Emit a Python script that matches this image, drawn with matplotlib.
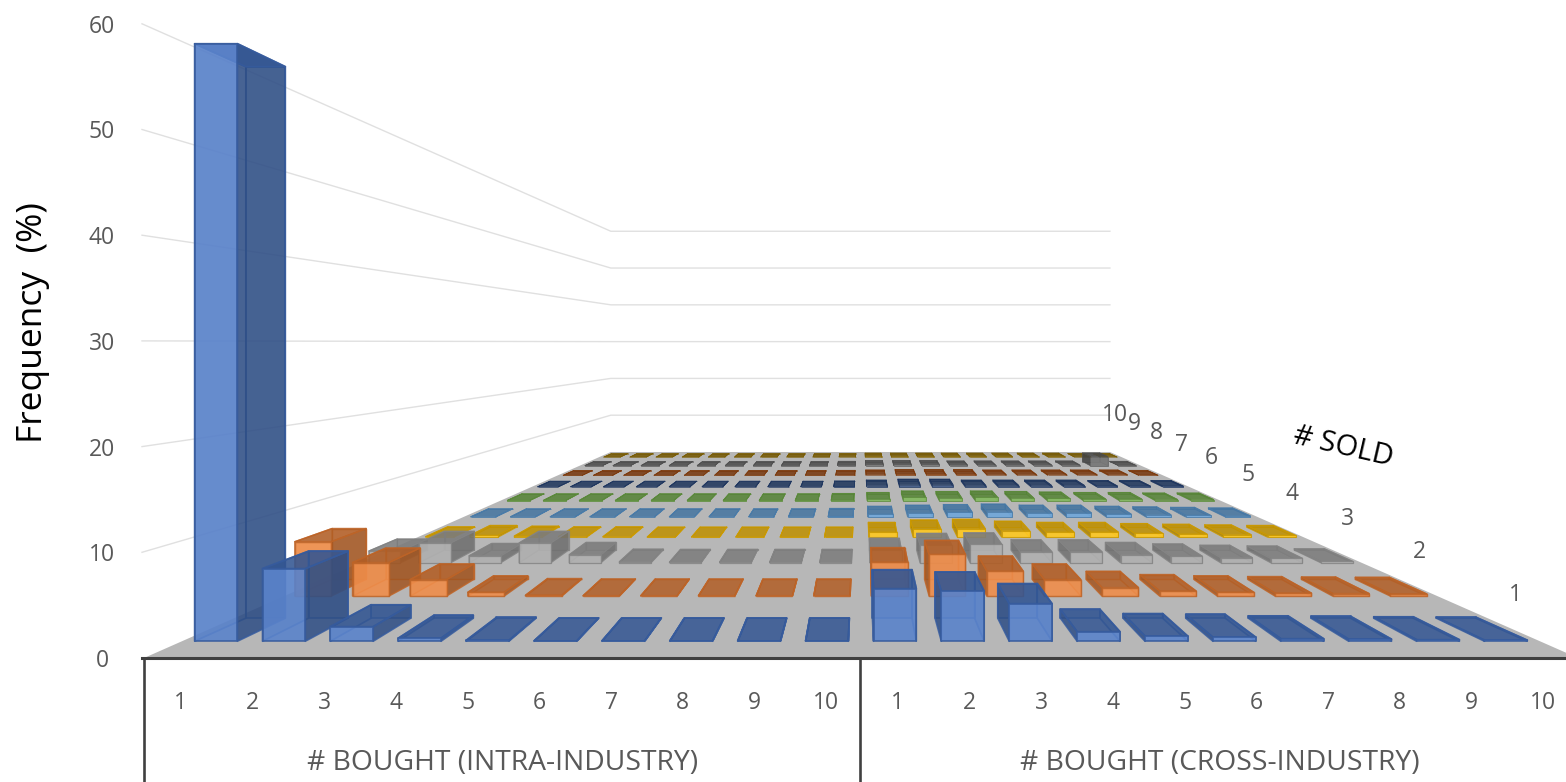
"""Perspective 3D column chart of deal frequency by # bought and # sold."""

import matplotlib
matplotlib.use("Agg")
import matplotlib.pyplot as plt
from matplotlib.colors import to_rgb
from matplotlib.patches import Polygon

plt.rcParams["font.family"] = ["Open Sans", "DejaVu Sans"]

# Frequencies (%): ten intra-industry columns, then ten cross-industry columns
sold_1 = [59.7, 7.25, 1.45, 0.3, 0.08, 0.03, 0.03, 0.03, 0.03, 0.03,
          5.25, 5.0, 3.75, 0.95, 0.5, 0.4, 0.25, 0.2, 0.15, 0.1]
sold_2 = [6.4, 3.95, 1.95, 0.45, 0.1, 0.05, 0.05, 0.05, 0.05, 0.05,
          4.0, 4.9, 2.95, 1.95, 1.0, 0.6, 0.45, 0.35, 0.3, 0.25]
sold_3 = [1.6, 2.7, 0.95, 2.7, 1.1, 0.15, 0.1, 0.1, 0.1, 0.1,
          1.7, 2.4, 2.5, 1.5, 1.5, 1.1, 0.9, 0.7, 0.6, 0.2]
sold_4 = [0.1, 0.3, 0.2, 0.1, 0.1, 0.05, 0.05, 0.05, 0.05, 0.05,
          0.8, 1.2, 1.3, 1.0, 0.8, 0.8, 0.6, 0.5, 0.4, 0.3]
sold_5 = [0.05, 0.05, 0.05, 0.05, 0.05, 0.05, 0.05, 0.05, 0.05, 0.1,
          0.5, 0.7, 0.8, 0.9, 0.7, 0.7, 0.5, 0.4, 0.3, 0.2]
sold_6 = [0.05, 0.05, 0.05, 0.05, 0.05, 0.05, 0.05, 0.05, 0.05, 0.1,
          0.3, 0.6, 0.5, 0.6, 0.5, 0.4, 0.3, 0.3, 0.2, 0.2]
sold_7 = [0.05, 0.05, 0.05, 0.05, 0.05, 0.05, 0.05, 0.05, 0.05, 0.1,
          0.3, 0.5, 0.5, 0.3, 0.3, 0.3, 0.3, 0.2, 0.2, 0.2]
sold_8 = [0.05, 0.05, 0.05, 0.05, 0.05, 0.05, 0.05, 0.05, 0.05, 0.1,
          0.2, 0.3, 0.3, 0.3, 0.2, 0.2, 0.2, 0.2, 0.2, 0.1]
sold_9 = [0.05, 0.05, 0.05, 0.05, 0.05, 0.05, 0.05, 0.05, 0.05, 0.1,
          0.3, 0.3, 0.3, 0.2, 0.2, 0.2, 0.2, 0.2, 2.2, 0.1]
sold_10 = [0.05, 0.05, 0.05, 0.05, 0.05, 0.05, 0.05, 0.05, 0.05, 0.1,
           0.2, 0.2, 0.2, 0.2, 0.2, 0.2, 0.2, 0.2, 0.1, 0.1]
rows = [sold_1, sold_2, sold_3, sold_4, sold_5,
        sold_6, sold_7, sold_8, sold_9, sold_10]

sold_labels = ["1", "2", "3", "4", "5", "6", "7", "8", "9", "10"]
bought_labels = ["1", "2", "3", "4", "5", "6", "7", "8", "9", "10"]
group_labels = ["# BOUGHT (INTRA-INDUSTRY)", "# BOUGHT (CROSS-INDUSTRY)"]
freq_ticks = [0, 10, 20, 30, 40, 50, 60]
row_colors = ["#4472C4", "#ED7D31", "#A5A5A5", "#FFC000", "#5B9BD5",
              "#70AD47", "#264478", "#9E480E", "#636363", "#997300"]

# Projection settings, in canvas pixels
VP_X, VP_Y = 860, 342
FLOOR_LEFT, FLOOR_RIGHT, FLOOR_Y = 144, 1578, 658
PX_PER_UNIT = 10.57
DEPTH_K = 1.873
COL_PITCH = (FLOOR_RIGHT - FLOOR_LEFT) / 20
BAR_FRAC = 0.63
ROW_START, ROW_PITCH, ROW_DEPTH = 0.03, 0.1, 0.047

TICK_GRAY = "#595959"
AXIS_DARK = "#404040"


def scale_at(depth):
    return 1 / (1 + DEPTH_K * depth)


def project(x, depth, value):
    """Map chart coords (canvas x at the front, depth 0-1, frequency) to the canvas."""
    s = scale_at(depth)
    front_y = FLOOR_Y - value * PX_PER_UNIT
    return VP_X + (x - VP_X) * s, VP_Y + (front_y - VP_Y) * s


def shade(color, factor):
    """Darken (factor < 1) or lighten (factor > 1) a colour."""
    r, g, b = to_rgb(color)
    if factor <= 1:
        return (r * factor, g * factor, b * factor)
    t = factor - 1
    return (r + (1 - r) * t, g + (1 - g) * t, b + (1 - b) * t)


def draw_box(ax, x0, x1, d0, d1, value, color):
    """Draw one translucent column, far faces first."""
    corners = {
        "front": [(x0, d0, 0), (x1, d0, 0), (x1, d0, value), (x0, d0, value)],
        "back": [(x0, d1, 0), (x1, d1, 0), (x1, d1, value), (x0, d1, value)],
        "left": [(x0, d0, 0), (x0, d1, 0), (x0, d1, value), (x0, d0, value)],
        "right": [(x1, d0, 0), (x1, d1, 0), (x1, d1, value), (x1, d0, value)],
        "top": [(x0, d0, value), (x1, d0, value), (x1, d1, value), (x0, d1, value)],
    }
    # The column shows whichever side faces the vanishing point
    near_side, far_side = ("right", "left") if (x0 + x1) / 2 < VP_X else ("left", "right")
    faces = [
        ("back", shade(color, 0.7), 0.25),
        (far_side, shade(color, 0.7), 0.2),
        (near_side, shade(color, 0.68), 0.85),
        ("top", shade(color, 0.75), 0.85),
        ("front", shade(color, 1.12), 0.9),
    ]
    edge = shade(color, 0.8)
    lw = max(0.35, 1.5 * scale_at(d0) - 0.15)
    for name, face, alpha in faces:
        pts = [project(*c) for c in corners[name]]
        ax.add_patch(Polygon(pts, closed=True, facecolor=(*face, alpha),
                             edgecolor=(*edge, 0.85), linewidth=lw,
                             joinstyle="round", zorder=3))


fig = plt.figure(figsize=(15.66, 7.82), dpi=100, facecolor="white")
ax = fig.add_axes([0, 0, 1, 1])
ax.set_xlim(0, 1566)
ax.set_ylim(782, 0)
ax.axis("off")

# Wall gridlines: left wall runs to the back wall, which runs across
for tick in freq_ticks:
    ax.text(102, FLOOR_Y - tick * PX_PER_UNIT + 3, str(tick), color=TICK_GRAY,
            fontsize=16.5, ha="center", va="center")
    if tick == 0:
        continue
    xs, ys = zip(project(FLOOR_LEFT - 2, 0, tick), project(FLOOR_LEFT, 1, tick),
                 project(FLOOR_RIGHT, 1, tick))
    ax.plot(xs, ys, color="#E0E0E0", linewidth=1.0, zorder=1)

# Floor
floor = [project(FLOOR_LEFT, 0, 0), project(FLOOR_RIGHT, 0, 0),
         project(FLOOR_RIGHT, 1, 0), project(FLOOR_LEFT, 1, 0)]
ax.add_patch(Polygon(floor, closed=True, facecolor="#B7B7B7", edgecolor="none", zorder=2))

# Columns, back row first and outer columns before inner ones
for row_idx in range(len(rows) - 1, -1, -1):
    d0 = ROW_START + ROW_PITCH * row_idx
    centers = [FLOOR_LEFT + COL_PITCH * (c + 0.5) for c in range(len(rows[row_idx]))]
    order = sorted(range(len(centers)), key=lambda c: -abs(centers[c] - VP_X))
    for c in order:
        half = COL_PITCH * BAR_FRAC / 2
        draw_box(ax, centers[c] - half, centers[c] + half, d0, d0 + ROW_DEPTH,
                 rows[row_idx][c], row_colors[row_idx])

# Category axis frame
ax.plot([FLOOR_LEFT - 2, 1566], [FLOOR_Y, FLOOR_Y], color=AXIS_DARK, linewidth=2.2, zorder=5)
for x in (FLOOR_LEFT, VP_X):
    ax.plot([x, x], [FLOOR_Y, 782], color=AXIS_DARK, linewidth=1.9, zorder=5)

for group in range(2):
    for i, label in enumerate(bought_labels):
        x = FLOOR_LEFT + COL_PITCH * (group * 10 + i + 0.5)
        ax.text(x + 1, 703, label, color=TICK_GRAY, fontsize=16.5, ha="center", va="center")
    x = FLOOR_LEFT + COL_PITCH * (group * 10 + 5)
    ax.text(x, 763, group_labels[group], color=TICK_GRAY, fontsize=20.3,
            ha="center", va="center")

# Depth axis labels run along the right floor edge
for i, label in enumerate(sold_labels):
    lx, ly = project(1588, ROW_START + ROW_DEPTH / 2 + ROW_PITCH * i, -1)
    ax.text(lx - 6, ly - 44, label, color=TICK_GRAY, fontsize=16.5, ha="center", va="center")

ax.text(1343, 447, "# SOLD", color="black", fontsize=21, rotation=-13,
        ha="center", va="center", rotation_mode="anchor")
ax.text(33, 323, "Frequency  (%)", color="black", fontsize=25.5, rotation=90,
        ha="center", va="center")

fig.savefig("out.png", dpi=100, facecolor="white")
plt.close(fig)
